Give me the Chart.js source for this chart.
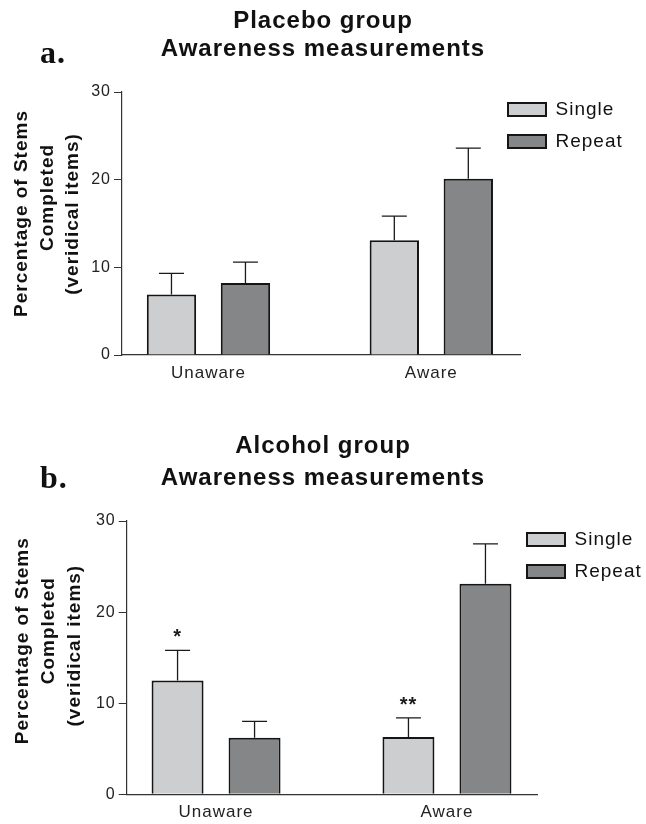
<!DOCTYPE html>
<html>
<head>
<meta charset="utf-8">
<script src="https://cdn.jsdelivr.net/npm/chart.js@4/dist/chart.umd.min.js"></script>
<style>
  html, body { margin: 0; padding: 0; background: #fff; }
  #wrap { position: relative; width: 646px; height: 824px; }
  canvas { position: absolute; left: 0; }
  #placebo { top: 0; }
  #alcohol { top: 400px; }
</style>
</head>
<body>
<div id="wrap">
  <canvas id="placebo" width="646" height="400"></canvas>
  <canvas id="alcohol" width="646" height="424"></canvas>
</div>
<script>
// Groups on the x axis and the two series
const categories = ['Unaware', 'Aware'];
const seriesNames = ['Single', 'Repeat'];
const yTicks = [0, 10, 20, 30];
const yTitle = ['Percentage of Stems', 'Completed', '(veridical items)'];

// Panel a: placebo group (means and upper SEM)
const placeboSingle = [6.9, 13.1];
const placeboSingleErr = [2.4, 2.75];
const placeboRepeat = [8.2, 20.1];
const placeboRepeatErr = [2.4, 3.5];

// Panel b: alcohol group (means, upper SEM, significance marks)
const alcoholSingle = [12.5, 6.3];
const alcoholSingleErr = [3.3, 2.1];
const alcoholSingleSig = ['*', '**'];
const alcoholRepeat = [6.2, 23.1];
const alcoholRepeatErr = [1.8, 4.4];
const alcoholRepeatSig = ['', ''];

const FONT = '"Liberation Sans", Arial, Helvetica, sans-serif';
Chart.defaults.font.family = FONT;
Chart.defaults.color = '#222';

// slightly open tracking for all canvas text
const tracking = {
  id: 'tracking',
  beforeUpdate(chart) { chart.ctx.letterSpacing = '1px'; },
  beforeDraw(chart) { chart.ctx.letterSpacing = '1px'; }
};

// upper error whiskers and significance marks above each bar
const errorBars = {
  id: 'errorBars',
  afterDatasetsDraw(chart, args, opts) {
    const ctx = chart.ctx;
    const y = chart.scales.y;
    ctx.save();
    chart.data.datasets.forEach((ds, i) => {
      const meta = chart.getDatasetMeta(i);
      meta.data.forEach((bar, j) => {
        const top = y.getPixelForValue(ds.data[j].y + ds.errors[j]);
        ctx.strokeStyle = opts.color;
        ctx.lineWidth = opts.width;
        ctx.beginPath();
        ctx.moveTo(bar.x, bar.y);
        ctx.lineTo(bar.x, top);
        ctx.moveTo(bar.x - opts.cap / 2, top);
        ctx.lineTo(bar.x + opts.cap / 2, top);
        ctx.stroke();
        const mark = ds.marks ? ds.marks[j] : '';
        if (mark) {
          ctx.font = opts.markFont;
          ctx.fillStyle = opts.color;
          ctx.textAlign = 'center';
          ctx.textBaseline = 'alphabetic';
          ctx.fillText(mark, bar.x, top - opts.markGap);
        }
      });
    });
    ctx.restore();
  }
};

// panel letter in the upper left corner
const panelLabel = {
  id: 'panelLabel',
  afterDraw(chart, args, opts) {
    const ctx = chart.ctx;
    ctx.save();
    ctx.font = opts.font;
    ctx.fillStyle = opts.color;
    ctx.textAlign = 'left';
    ctx.textBaseline = 'alphabetic';
    ctx.fillText(opts.text, opts.x, opts.y);
    ctx.restore();
  }
};

// three-line rotated title beside the y axis, each line with its own baseline
const yAxisTitle = {
  id: 'yAxisTitle',
  afterDraw(chart, args, opts) {
    const ctx = chart.ctx;
    const y = chart.scales.y;
    const mid = (y.top + y.bottom) / 2;
    ctx.save();
    ctx.font = opts.font;
    ctx.fillStyle = opts.color;
    ctx.textAlign = 'center';
    ctx.textBaseline = 'alphabetic';
    opts.lines.forEach((line, k) => {
      ctx.save();
      ctx.translate(opts.baselines[k], mid + opts.shifts[k]);
      ctx.rotate(-Math.PI / 2);
      ctx.fillText(line, 0, 0);
      ctx.restore();
    });
    ctx.restore();
  }
};

// legend sits inside the plot, overlapping its right edge
const legendSpot = {
  id: 'legendSpot',
  afterLayout(chart, args, opts) {
    const lg = chart.legend;
    if (!lg) return;
    const w = lg.width, h = lg.height;
    lg.left = opts.left; lg.right = opts.left + w;
    lg.top = opts.top; lg.bottom = opts.top + h;
  }
};

function makePanel(id, p) {
  const toPoints = arr => arr.map((v, i) => ({ x: i, y: v }));
  return new Chart(document.getElementById(id), {
    type: 'bar',
    data: {
      datasets: [
        {
          label: seriesNames[0],
          data: toPoints(p.single),
          errors: p.singleErr,
          marks: p.singleSig,
          backgroundColor: '#cdced0',
          borderColor: '#151515',
          borderWidth: 2
        },
        {
          label: seriesNames[1],
          data: toPoints(p.repeat),
          errors: p.repeatErr,
          marks: p.repeatSig,
          backgroundColor: '#858688',
          borderColor: '#151515',
          borderWidth: 2
        }
      ]
    },
    options: {
      responsive: false,
      animation: false,
      devicePixelRatio: 1,
      events: [],
      categoryPercentage: p.catPct,
      barPercentage: p.barPct,
      layout: { padding: { left: 0, right: 0, top: 0, bottom: p.padBottom } },
      scales: {
        x: {
          type: 'linear',
          offset: false,
          min: p.xMin,
          max: p.xMax,
          afterBuildTicks: axis => { axis.ticks = categories.map((c, i) => ({ value: i })); },
          afterFit: s => { s.height = 28; },
          ticks: {
            callback: v => categories[v],
            font: { size: 17 },
            color: '#222',
            padding: 8,
            maxRotation: 0,
            autoSkip: false
          },
          grid: { display: true, drawOnChartArea: false, drawTicks: false },
          border: { display: true, color: '#333', width: 1.2 }
        },
        y: {
          min: 0,
          max: 30,
          afterBuildTicks: axis => { axis.ticks = yTicks.map(v => ({ value: v })); },
          afterFit: s => { s.width = p.yWidth; },
          ticks: { font: { size: 16 }, color: '#222', padding: 3 },
          grid: { drawOnChartArea: false, drawTicks: true, tickLength: 8, tickColor: '#333', lineWidth: 1 },
          border: { display: true, color: '#333', width: 1.2 }
        },
        // empty right-hand margin that holds the legend area
        gutter: {
          type: 'linear',
          position: 'right',
          display: true,
          afterFit: s => { s.width = p.gutter; },
          ticks: { display: false },
          grid: { display: false },
          border: { display: false }
        }
      },
      plugins: {
        title: {
          display: true,
          text: p.title,
          color: '#111',
          font: { size: 24, weight: 'bold', lineHeight: p.titleLH },
          padding: { top: p.titleTop, bottom: p.titleBottom }
        },
        legend: {
          position: 'chartArea',
          align: 'start',
          labels: {
            boxWidth: 38,
            boxHeight: 13,
            padding: 13,
            color: '#111',
            font: { size: 19 }
          }
        },
        tooltip: { enabled: false },
        legendSpot: { left: p.legendLeft, top: p.legendTop },
        errorBars: { color: '#1a1a1a', width: 1.3, cap: 25, markGap: 7, markFont: 'bold 20px ' + FONT },
        yAxisTitle: {
          lines: yTitle,
          baselines: p.yTitleBase,
          shifts: p.yTitleShift,
          color: '#111',
          font: 'bold 19px ' + FONT
        },
        panelLabel: { text: p.letter, x: 40, y: p.letterY, color: '#111', font: 'bold 32px "Liberation Serif", "Times New Roman", serif' }
      }
    },
    plugins: [tracking, errorBars, yAxisTitle, panelLabel, legendSpot]
  });
}

makePanel('placebo', {
  single: placeboSingle, singleErr: placeboSingleErr, singleSig: null,
  repeat: placeboRepeat, repeatErr: placeboRepeatErr, repeatSig: null,
  title: ['Placebo group', 'Awareness measurements'],
  titleLH: 1.2, titleTop: 6.6, titleBottom: 27.8,
  letter: 'a.', letterY: 63,
  yWidth: 122, gutter: 126, padBottom: 17,
  yTitleBase: [27, 52.5, 78], yTitleShift: [-10, -26, -9.5],
  xMin: -0.388, xMax: 1.398, catPct: 0.664, barPct: 0.667,
  legendLeft: 495, legendTop: 87
});

makePanel('alcohol', {
  single: alcoholSingle, singleErr: alcoholSingleErr, singleSig: alcoholSingleSig,
  repeat: alcoholRepeat, repeatErr: alcoholRepeatErr, repeatSig: alcoholRepeatSig,
  title: ['Alcohol group', 'Awareness measurements'],
  titleLH: 1.3125, titleTop: 30.75, titleBottom: 27.25,
  letter: 'b.', letterY: 88,
  yWidth: 126.7, gutter: 108.3, padBottom: 1.7,
  yTitleBase: [28, 54, 80], yTitleShift: [-17, -27, -12],
  xMin: -0.387, xMax: 1.393, catPct: 0.667, barPct: 0.675,
  legendLeft: 514, legendTop: 117
});
</script>
</body>
</html>
